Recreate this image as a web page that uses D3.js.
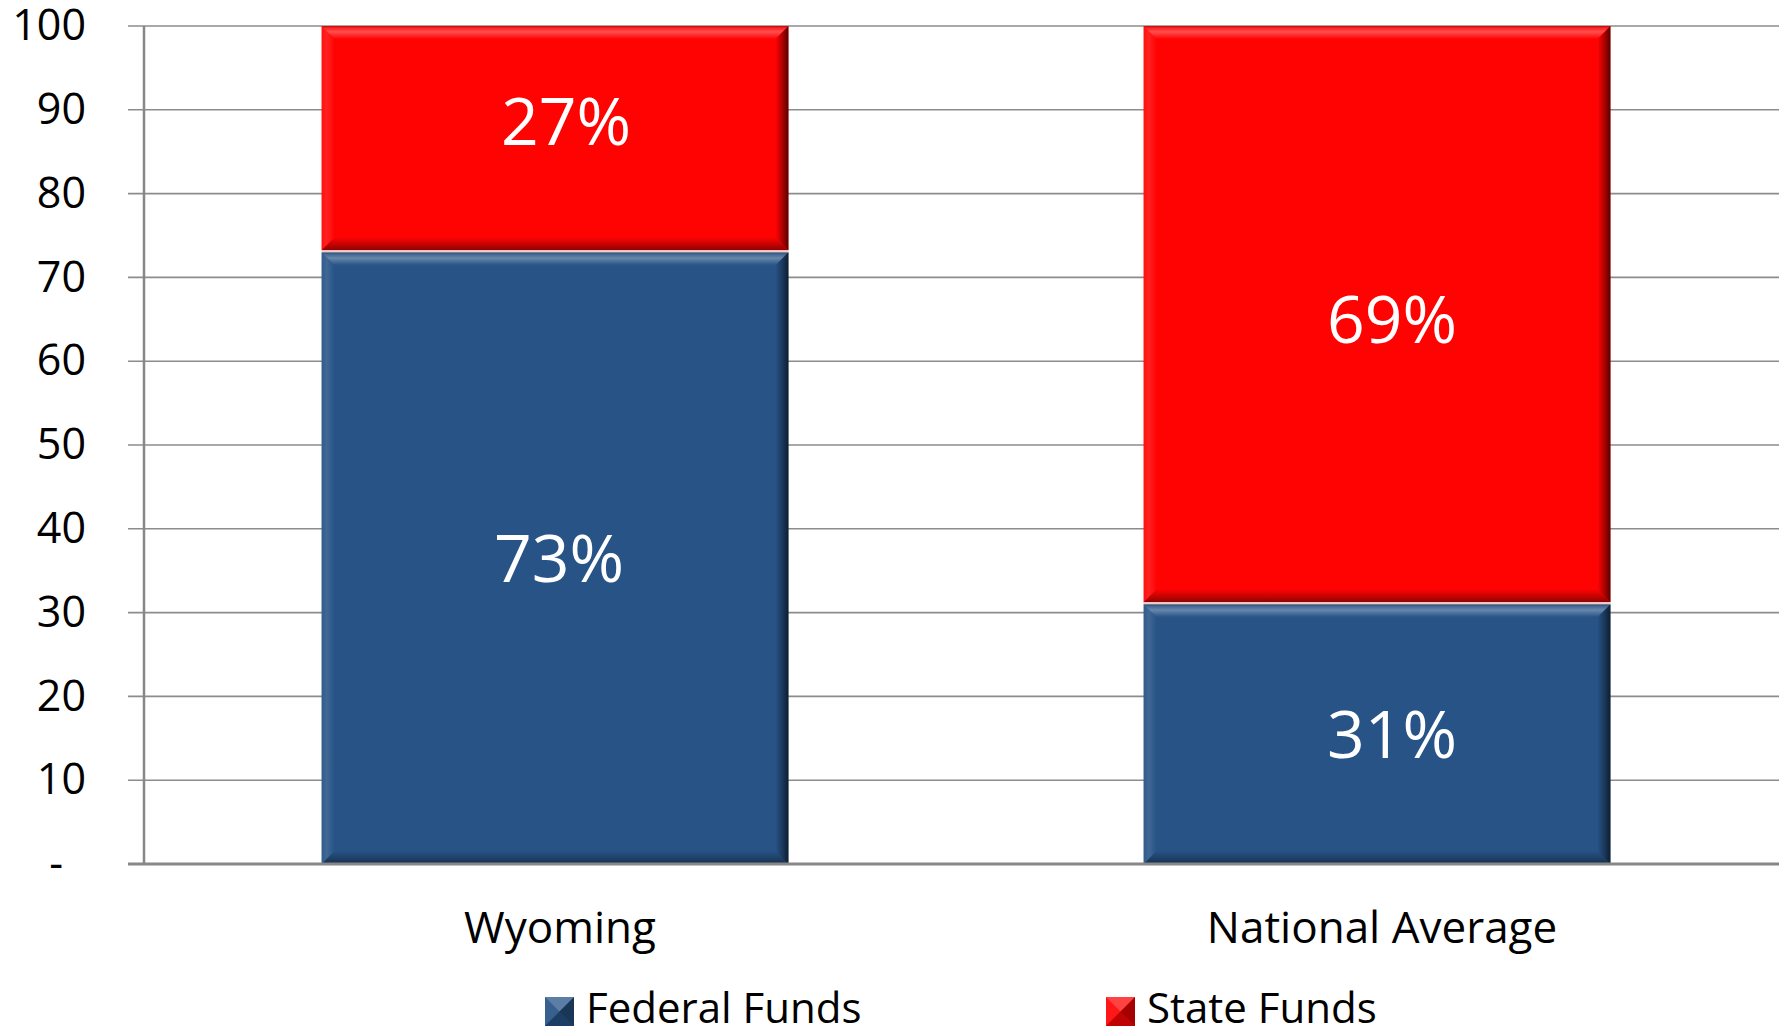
<!DOCTYPE html>
<html>
<head>
<meta charset="utf-8">
<script src="https://cdn.jsdelivr.net/npm/d3@7"></script>
<style>
  html, body { margin: 0; padding: 0; background: #fff; overflow: hidden; }
  svg { display: block; font-family: "Open Sans", "Noto Sans", sans-serif; }
</style>
</head>
<body>
<svg id="chart" width="1779" height="1034"></svg>
<script>
// Funding share by source (percent of total)
const categories = ["Wyoming", "National Average"];
const seriesNames = ["Federal Funds", "State Funds"];
const federalFunds = [73, 31];
const stateFunds = [27, 69];
const yTicks = [0, 10, 20, 30, 40, 50, 60, 70, 80, 90, 100];
const seriesColors = ["#275386", "#ff0303"];

const W = 1779, H = 1034;
const plot = { left: 144, right: 1788, top: 26, bottom: 864 };

const svg = d3.select("#chart");
const defs = svg.append("defs");

// Bevel overlays shared by every bar segment
function grad(id, x2, y2, stops) {
  const g = defs.append("linearGradient").attr("id", id)
    .attr("x1", 0).attr("y1", 0).attr("x2", x2).attr("y2", y2);
  stops.forEach(([o, c, a]) => g.append("stop").attr("offset", o).attr("stop-color", c).attr("stop-opacity", a));
}
grad("bevTop", 0, 1, [[0, "#000", 0.25], [0.2, "#fff", 0.15], [0.45, "#fff", 0.3], [1, "#fff", 0]]);
grad("bevBottom", 0, 1, [[0, "#000", 0], [0.6, "#000", 0.25], [1, "#000", 0.45]]);
grad("bevRight", 1, 0, [[0, "#000", 0], [0.5, "#000", 0.3], [1, "#000", 0.65]]);
grad("bevLeft", 1, 0, [[0, "#fff", 0.05], [0.4, "#fff", 0.12], [1, "#fff", 0]]);

const x = d3.scaleBand().domain(categories).range([plot.left, plot.right])
  .paddingInner(0.432).paddingOuter(0.216);
const y = d3.scaleLinear().domain([0, 100]).range([plot.bottom, plot.top]);

// Horizontal gridlines (with short outside tick stubs)
svg.append("g").selectAll("line").data(yTicks.filter(d => d > 0)).join("line")
  .attr("x1", plot.left - 16).attr("x2", W)
  .attr("y1", d => y(d)).attr("y2", d => y(d))
  .attr("stroke", "#8c8c8c").attr("stroke-width", 1.6);

// Stacked data
const rows = categories.map((c, i) => ({ category: c, federal: federalFunds[i], state: stateFunds[i] }));
const stack = d3.stack().keys(["federal", "state"])(rows);

function bevelled(g, x0, y0, w, h, b, color) {
  g.append("rect").attr("x", x0).attr("y", y0).attr("width", w).attr("height", h).attr("fill", color);
  const pts = {
    top: [[x0, y0], [x0 + w, y0], [x0 + w - b, y0 + b], [x0 + b, y0 + b]],
    bottom: [[x0 + b, y0 + h - b], [x0 + w - b, y0 + h - b], [x0 + w, y0 + h], [x0, y0 + h]],
    left: [[x0, y0], [x0 + b, y0 + b], [x0 + b, y0 + h - b], [x0, y0 + h]],
    right: [[x0 + w - b, y0 + b], [x0 + w, y0], [x0 + w, y0 + h], [x0 + w - b, y0 + h - b]]
  };
  const ids = { top: "bevTop", bottom: "bevBottom", left: "bevLeft", right: "bevRight" };
  Object.keys(pts).forEach(k => {
    g.append("polygon").attr("points", pts[k].map(p => p.join(",")).join(" "))
      .attr("fill", `url(#${ids[k]})`);
  });
}

const bars = svg.append("g");
stack.forEach((layer, si) => {
  layer.forEach(d => {
    const x0 = x(d.data.category);
    const yTop = y(d[1]);
    const yBot = y(d[0]);
    const gap = d[0] > 0 ? 2 : 0; // thin light seam between stacked segments
    bevelled(bars.append("g"), x0, yTop, x.bandwidth(), yBot - yTop - gap, 13, seriesColors[si]);
    if (gap) {
      bars.append("rect").attr("x", x0).attr("y", yBot - gap)
        .attr("width", x.bandwidth()).attr("height", gap).attr("fill", "#f6c9c9");
    }
  });
});

// Value labels inside each segment
const labelNudge = [[4, 0], [11, -18], [15, 0], [15, 4]];
const labels = svg.append("g").attr("fill", "#fff").attr("font-size", 66).attr("text-anchor", "middle");
categories.forEach((c, ci) => {
  stack.forEach(layer => {
    const d = layer[ci];
    const [dx, dy] = labelNudge[ci * 2 + (layer.key === "state" ? 1 : 0)];
    labels.append("text")
      .attr("x", x(c) + x.bandwidth() / 2 + dx)
      .attr("y", y((d[0] + d[1]) / 2) + dy)
      .attr("dy", "0.36em")
      .text(`${d[1] - d[0]}%`);
  });
});

// Y axis line and baseline
svg.append("line").attr("x1", plot.left).attr("x2", plot.left)
  .attr("y1", plot.top).attr("y2", plot.bottom)
  .attr("stroke", "#878787").attr("stroke-width", 2.5);
svg.append("line").attr("x1", plot.left - 16).attr("x2", W)
  .attr("y1", plot.bottom).attr("y2", plot.bottom)
  .attr("stroke", "#878787").attr("stroke-width", 3);

// Y tick labels
const yAxis = d3.axisLeft(y).tickValues(yTicks).tickSize(0).tickPadding(42)
  .tickFormat(d => d === 0 ? "-" : d);
const gy = svg.append("g").attr("transform", `translate(${plot.left - 16},0)`).call(yAxis);
gy.select(".domain").remove();
gy.selectAll("text").attr("font-size", 43).attr("fill", "#000")
  .attr("font-family", "'Open Sans', sans-serif")
  .attr("dx", d => d === 0 ? -23 : 0);

// Category labels
const xAxis = d3.axisBottom(x).tickSize(0).tickPadding(0);
const gx = svg.append("g").attr("transform", `translate(0,${plot.bottom})`).call(xAxis);
gx.select(".domain").remove();
gx.selectAll("text").attr("font-size", 44).attr("fill", "#000")
  .attr("font-family", "'Open Sans', sans-serif")
  .attr("dy", null).attr("y", 79).attr("dx", 5);

// Legend
const legendX = [545, 1106];
const legend = svg.append("g");
seriesNames.forEach((name, i) => {
  const g = legend.append("g").attr("transform", `translate(${legendX[i]},997)`);
  const s = 29;
  g.append("rect").attr("width", s).attr("height", s).attr("fill", seriesColors[i]);
  const c = s / 2;
  const tri = [
    { p: [[0, 0], [s, 0], [c, c]], f: "#fff", o: 0.25 },
    { p: [[0, 0], [c, c], [0, s]], f: "#fff", o: 0.08 },
    { p: [[s, 0], [s, s], [c, c]], f: "#000", o: 0.35 },
    { p: [[0, s], [c, c], [s, s]], f: "#000", o: 0.25 }
  ];
  tri.forEach(t => g.append("polygon").attr("points", t.p.map(q => q.join(",")).join(" "))
    .attr("fill", t.f).attr("fill-opacity", t.o));
  g.append("text").attr("x", 41).attr("y", 26).attr("font-size", 42).attr("fill", "#000").text(name);
});
</script>
</body>
</html>
